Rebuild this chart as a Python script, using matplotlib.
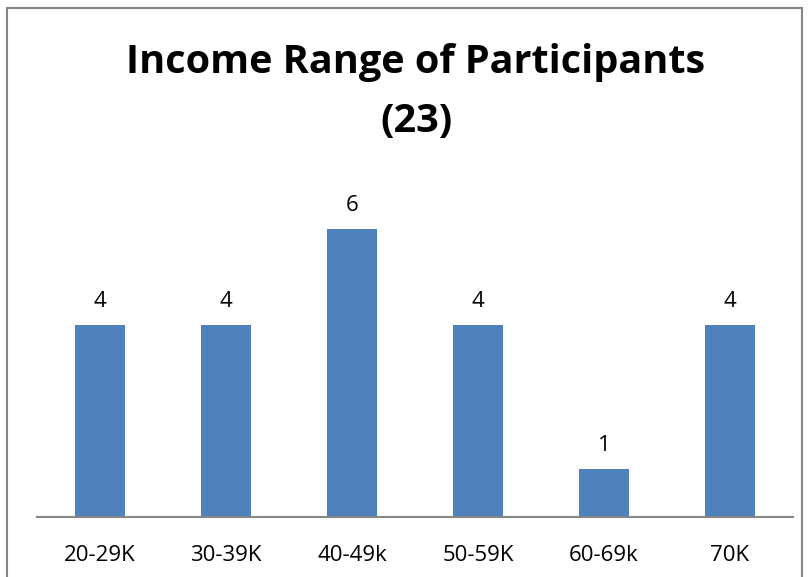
import matplotlib.pyplot as plt
from matplotlib.patches import Rectangle

categories = ['20-29K', '30-39K', '40-49k', '50-59K', '60-69k', '70K']
counts = [4, 4, 6, 4, 1, 4]
title = 'Income Range of Participants\n(23)'

plt.rcParams['font.family'] = ['Open Sans', 'DejaVu Sans']

fig = plt.figure(figsize=(8.09, 5.77), dpi=100)
ax = fig.add_axes([37 / 809, 1 - 517 / 577, (793 - 37) / 809, (517 - 181) / 577])

x = list(range(len(categories)))
bars = ax.bar(x, counts, width=0.4, color='#4F81BD')
for xi, v in zip(x, counts):
    ax.text(xi, v + 0.28, str(v), ha='center', va='bottom', fontsize=16, color='black')

ax.set_xlim(-0.5, len(categories) - 0.5)
ax.set_ylim(0, 7)
ax.set_xticks(x)
ax.set_xticklabels(categories, fontsize=16)
ax.tick_params(axis='x', length=0, pad=20)
ax.set_yticks([])
for s in ['top', 'right', 'left']:
    ax.spines[s].set_visible(False)
ax.spines['bottom'].set_color('#868686')
ax.spines['bottom'].set_linewidth(1.5)

fig.text(416 / 809, 1 - 92 / 577, title, ha='center', va='center', fontsize=28.5,
         fontweight='bold', linespacing=1.65)

# outer chart border
fig.patches.append(Rectangle((7 / 809, -0.1), (802 - 7) / 809, 1.1 - 8 / 577,
                             transform=fig.transFigure, fill=False,
                             edgecolor='#868686', linewidth=1.5))

fig.savefig('out.png', dpi=100)
